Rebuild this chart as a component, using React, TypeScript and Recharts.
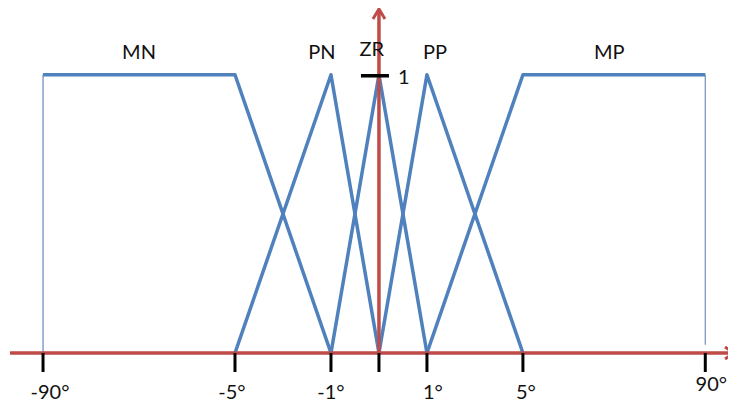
import React from 'react'
import {
  LineChart,
  Line,
  XAxis,
  YAxis,
  ReferenceLine,
  ReferenceDot,
} from 'recharts'

// axis stations (schematic, not linear in degrees) and their labels
const stations = [-7, -3, -1, 0, 1, 3, 6.8]
const stationLabels = ['-90°', '-5°', '-1°', '', '1°', '5°', '90°']

// membership functions: x = station, y = degree of membership
const mn = [
  { x: -7, y: 1 },
  { x: -3, y: 1 },
  { x: -1, y: 0 },
]
const pn = [
  { x: -3, y: 0 },
  { x: -1, y: 1 },
  { x: 0, y: 0 },
]
const zr = [
  { x: -1, y: 0 },
  { x: 0, y: 1 },
  { x: 1, y: 0 },
]
const pp = [
  { x: 0, y: 0 },
  { x: 1, y: 1 },
  { x: 3, y: 0 },
]
const mp = [
  { x: 1, y: 0 },
  { x: 3, y: 1 },
  { x: 6.8, y: 1 },
]
const mnEdge = [
  { x: -7, y: 0 },
  { x: -7, y: 1 },
]
const mpEdge = [
  { x: 6.8, y: 1 },
  { x: 6.8, y: 0.03 },
]

// set names and where they sit
const setNames = ['MN', 'PN', 'ZR', 'PP', 'MP']
const setNameX = [-5, -1.19, -0.15, 1.17, 4.8]
const setNameY = [1.085, 1.085, 1.097, 1.085, 1.085]

const BLUE = '#4f81bd'
const RED = '#be4b48'
const FONT = 'Lato, "Open Sans", sans-serif'

// per-label nudges so the degree marks sit like hand-placed text boxes
const labelDx = [7, -3, 0, 0, 6, 3, 6]
const labelDy = [0, 0, 0, 0, 0, 0, -8]

const StationTick = (props: any) => {
  const { x, y, payload } = props
  const i = stations.indexOf(payload.value)
  if (i < 0 || !stationLabels[i]) return null
  return (
    <text
      x={x + labelDx[i]}
      y={y + labelDy[i]}
      dy="0.71em"
      textAnchor="middle"
      fontFamily={FONT}
      fontSize={20}
      fill="#111"
    >
      {stationLabels[i]}
    </text>
  )
}

const HorizontalArrow = (p: any) => (
  <g>
    <line x1={p.x1 + 2} y1={p.y1} x2={p.x2} y2={p.y2} stroke={RED} strokeWidth={3.5} />
    <polyline
      points={`${p.x2 - 11},${p.y2 - 6} ${p.x2 - 2},${p.y2} ${p.x2 - 11},${p.y2 + 6}`}
      fill="none"
      stroke={RED}
      strokeWidth={3}
    />
  </g>
)

const VerticalArrow = (p: any) => (
  <g>
    <line x1={p.x1} y1={p.y1} x2={p.x2} y2={p.y2 + 2} stroke={RED} strokeWidth={3.5} />
    <polyline
      points={`${p.x2 - 6},${p.y2 + 11} ${p.x2},${p.y2 + 1} ${p.x2 + 6},${p.y2 + 11}`}
      fill="none"
      stroke={RED}
      strokeWidth={3}
    />
  </g>
)

const UnitMark = (p: any) => (
  <g>
    <line x1={p.cx - 18} y1={p.cy + 1} x2={p.cx + 10} y2={p.cy + 1} stroke="#000" strokeWidth={3.5} />
    <text x={p.cx + 19} y={p.cy + 1} dominantBaseline="central" fontFamily={FONT} fontSize={20} fill="#111">
      1
    </text>
  </g>
)

const SetName = (text: string) => (p: any) => (
  <text x={p.cx} y={p.cy} textAnchor="middle" dominantBaseline="central" fontFamily={FONT} fontSize={20} fill="#111">
    {text}
  </text>
)

const series = [mn, pn, zr, pp, mp]

export default function App() {
  return (
    <LineChart width={728} height={395} margin={{ top: 0, right: 0, bottom: 10, left: 0 }}>
      <XAxis
        dataKey="x"
        type="number"
        domain={[-7.73, 7.44]}
        allowDataOverflow
        ticks={stations}
        interval={0}
        axisLine={false}
        tickLine={{ stroke: '#000', strokeWidth: 3 }}
        tickSize={19}
        tickMargin={13}
        height={40}
        tick={<StationTick />}
      />
      <YAxis hide type="number" domain={[0, 1.24]} allowDataOverflow />

      <Line data={mnEdge} dataKey="y" stroke="#6f93c4" strokeWidth={1.3} dot={false} isAnimationActive={false} />
      <Line data={mpEdge} dataKey="y" stroke="#7d98bd" strokeWidth={1.3} dot={false} isAnimationActive={false} />
      {series.map((d, i) => (
        <Line
          key={setNames[i]}
          data={d}
          dataKey="y"
          stroke={BLUE}
          strokeWidth={3.5}
          strokeLinejoin="round"
          dot={false}
          isAnimationActive={false}
        />
      ))}

      <ReferenceLine y={0} ifOverflow="visible" shape={HorizontalArrow} />
      <ReferenceLine
        segment={[
          { x: 0, y: 0 },
          { x: 0, y: 1.24 },
        ]}
        ifOverflow="visible"
        shape={VerticalArrow}
      />
      <ReferenceDot x={0} y={1} r={0} ifOverflow="visible" shape={UnitMark} />
      {setNames.map((name, i) => (
        <ReferenceDot
          key={name}
          x={setNameX[i]}
          y={setNameY[i]}
          r={0}
          ifOverflow="visible"
          shape={SetName(name)}
        />
      ))}
    </LineChart>
  )
}
